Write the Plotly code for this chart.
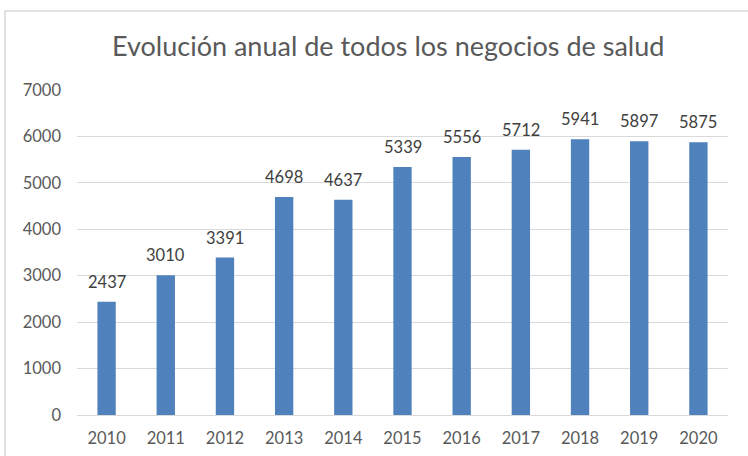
import plotly.graph_objects as go

years = ["2010", "2011", "2012", "2013", "2014", "2015", "2016", "2017", "2018", "2019", "2020"]
values = [2437, 3010, 3391, 4698, 4637, 5339, 5556, 5712, 5941, 5897, 5875]
y_ticks = [0, 1000, 2000, 3000, 4000, 5000, 6000, 7000]

FONT = "Lato"

fig = go.Figure(go.Bar(
    x=years, y=values,
    marker=dict(color="#4F81BD", line=dict(width=0)),
    width=0.31,
))

annotations = [
    dict(x=i, y=v, xref="x", yref="y", text=str(v), showarrow=False,
         yanchor="bottom", yshift=8,
         font=dict(family=FONT, size=16.5, color="#404040"))
    for i, v in enumerate(values)
]

fig.update_layout(
    width=748, height=456,
    margin=dict(l=77, r=20, t=90, b=41),
    paper_bgcolor="white", plot_bgcolor="white",
    showlegend=False,
    title=dict(text="Evolución anual de todos los negocios de salud",
               x=0.519, xanchor="center", xref="container",
               y=1 - 47 / 456, yanchor="middle", yref="container",
               font=dict(family=FONT, size=27, color="#595959")),
    xaxis=dict(type="category", range=[-0.5, len(years) - 0.5], showgrid=False,
               showline=True, linecolor="#D9D9D9", automargin=False,
               linewidth=1, ticks="", ticklabelstandoff=8,
               tickfont=dict(family=FONT, size=16.5, color="#595959")),
    yaxis=dict(range=[0, 7000], tickvals=y_ticks, showgrid=True, gridcolor="#D9D9D9",
               zeroline=False, ticks="", ticklen=0, automargin=False, ticklabelstandoff=15,
               tickfont=dict(family=FONT, size=16.5, color="#595959")),
    annotations=annotations,
    shapes=[dict(type="rect", xref="paper", yref="paper",
                 x0=(5 - 77) / 651, x1=(752 - 77) / 651,
                 y0=(415 - 462) / 325, y1=(415 - 11) / 325,
                 line=dict(color="#D9D9D9", width=1.5), layer="below")],
)

fig.write_html("out.html", config={"displayModeBar": False},
               post_script="document.body.style.margin='0';document.body.style.overflow='hidden';")
